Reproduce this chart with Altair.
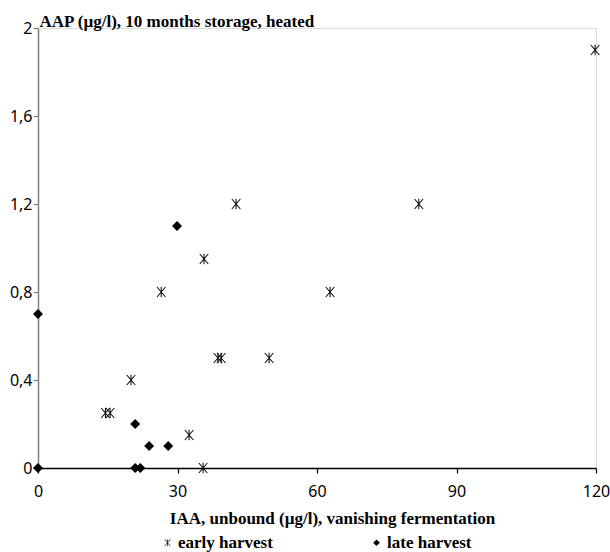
import altair as alt
import pandas as pd

early_x = [14.5, 15.5, 20.0, 26.5, 32.5, 35.5, 35.7, 38.7, 39.4, 42.6, 49.7, 62.8, 81.9, 119.8]
early_y = [0.25, 0.25, 0.40, 0.80, 0.15, 0.00, 0.95, 0.50, 0.50, 1.20, 0.50, 0.80, 1.20, 1.90]
late_x = [0.0, 0.0, 20.9, 20.9, 22.0, 23.9, 28.0, 29.9]
late_y = [0.70, 0.00, 0.20, 0.00, 0.00, 0.10, 0.10, 1.10]
series = ["early harvest", "late harvest"]
x_ticks = [0, 30, 60, 90, 120]
y_ticks = [0, 0.4, 0.8, 1.2, 1.6, 2]

df = pd.DataFrame(
    [{"x": a, "y": b, "s": series[0]} for a, b in zip(early_x, early_y)]
    + [{"x": a, "y": b, "s": series[1]} for a, b in zip(late_x, late_y)]
)

# asterisk (X with a vertical bar) drawn as thin filled bars so it renders in the legend too
ASTER = (
    "M-0.1,-1.05L0.1,-1.05L0.1,1.05L-0.1,1.05Z"
    "M-0.774,-1.065L0.926,0.935L0.774,1.065L-0.926,-0.935Z"
    "M-0.926,0.935L0.774,-1.065L0.926,-0.935L-0.774,1.065Z"
)
TITLE_FONT = "Liberation Serif"
TICK_FONT = "Noto Sans"

chart = alt.Chart(df).mark_point(
    filled=True, color="black", opacity=1, strokeWidth=0
).encode(
    x=alt.X("x:Q",
            scale=alt.Scale(domain=[0, 120], nice=False, zero=False),
            axis=alt.Axis(values=x_ticks, grid=False, domainColor="black", domainWidth=1.5,
                          tickColor="black", tickSize=5, tickWidth=1.2,
                          labelFont=TICK_FONT, labelFontSize=16, labelColor="black",
                          labelPadding=10, labelFlush=False,
                          title="IAA, unbound (µg/l), vanishing fermentation",
                          titleFont=TITLE_FONT, titleFontSize=17, titleFontWeight="bold",
                          titleColor="black", titleAnchor="start", titleAlign="center",
                          titleX=294, titleY=55, titleBaseline="alphabetic")),
    y=alt.Y("y:Q",
            scale=alt.Scale(domain=[0, 2], nice=False, zero=False),
            axis=alt.Axis(values=y_ticks, grid=False, domainColor="#808080", domainWidth=1.5,
                          tickColor="#808080", tickSize=5, tickWidth=1.2,
                          labelFont=TICK_FONT, labelFontSize=16, labelColor="black",
                          labelPadding=1, labelFlush=False,
                          labelExpr="replace(toString(datum.value), '.', ',')",
                          title="AAP (µg/l), 10 months storage, heated",
                          titleFont=TITLE_FONT, titleFontSize=17, titleFontWeight="bold",
                          titleColor="black", titleAngle=0, titleAlign="left",
                          titleBaseline="alphabetic", titleX=1, titleY=-2)),
    shape=alt.Shape("s:N",
                    scale=alt.Scale(domain=series, range=[ASTER, "diamond"]),
                    legend=alt.Legend(orient="none", legendX=121, legendY=506,
                                      direction="horizontal", columns=2, columnPadding=95,
                                      title=None, labelFont=TITLE_FONT, labelFontSize=17,
                                      labelFontWeight="bold",
                                      labelColor="black", labelOffset=2, symbolSize=45,
                                      symbolFillColor="black", symbolStrokeWidth=0)),
    size=alt.value(100),
).properties(
    width=558, height=440,
    padding={"left": 38, "top": 28, "right": 14, "bottom": 84},
    autosize=alt.AutoSizeParams(type="none"),
).configure_view(stroke=None).configure(background="white")

chart.save("out.html", embed_options={"renderer": "svg", "actions": False})
